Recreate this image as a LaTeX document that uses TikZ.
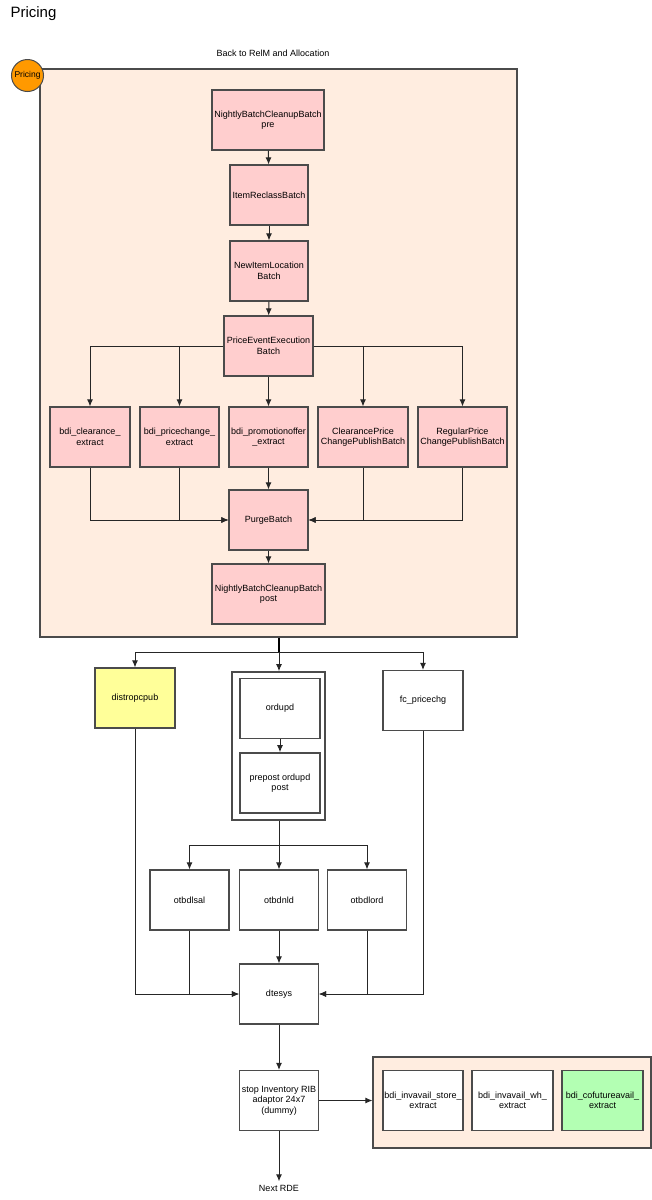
\documentclass[tikz,border=0pt]{standalone}
\usepackage{fontspec}
\setmainfont{Liberation Sans}
\usetikzlibrary{arrows.meta}
\definecolor{boxpink}{RGB}{255,206,206}
\definecolor{areapeach}{RGB}{255,237,224}
\definecolor{edgegray}{RGB}{75,75,75}
\definecolor{notegold}{RGB}{255,255,153}
\definecolor{mintgreen}{RGB}{179,255,179}
\definecolor{badgeorange}{RGB}{255,153,0}
\tikzset{
    batch/.style={draw=edgegray, fill=boxpink, line width=1.1pt, minimum width=79pt, minimum height=60pt, align=center, inner sep=1pt},
    job/.style={batch, fill=white},
    area/.style={draw=edgegray, fill=areapeach, line width=1.1pt, inner sep=0pt},
    flow/.style={->, draw=black!85, line width=1pt},
    small/.style={font=\fontsize{9}{10.5}\selectfont}
}

\begin{document}
\begin{tikzpicture}[x=1pt, y=-1pt, >={Latex[length=7pt,width=6pt]}, every node/.style={small}]
    \useasboundingbox (0,0) rectangle (652,1200);
    \node[anchor=west, font=\fontsize{15}{17}\selectfont] (title) at (7,14) {Pricing};
    \node (back) at (273,53) {Back to RelM and Allocation};
    \node[area, minimum width=477pt, minimum height=568pt] (pricing) at (278.5,353) {};
    \node[circle, draw=edgegray, fill=badgeorange, line width=1pt, minimum size=32pt, inner sep=0pt, font=\fontsize{8.5}{9}\selectfont] (badge) at (27.5,75.5) {Pricing};

    \node[batch, minimum width=112pt] (pre) at (268,120) {NightlyBatchCleanupBatch\\pre};
    \node[batch, minimum width=78pt] (reclass) at (269,195) {ItemReclassBatch};
    \node[batch, minimum width=78pt] (newloc) at (269,271) {NewItemLocation\\Batch};
    \node[batch, minimum width=89pt] (pee) at (268.5,346) {PriceEventExecution\\Batch};
    \node[batch, minimum width=80pt] (clr) at (90,437) {bdi\_clearance\_\\extract};
    \node[batch] (pchg) at (179.5,437) {bdi\_pricechange\_\\extract};
    \node[batch] (promo) at (268.5,437) {bdi\_promotionoffer\\\_extract};
    \node[batch, minimum width=90pt] (clrpub) at (363,437) {ClearancePrice\\ChangePublishBatch};
    \node[batch, minimum width=89pt] (regpub) at (462.5,437) {RegularPrice\\ChangePublishBatch};
    \node[batch] (purge) at (268.5,520) {PurgeBatch};
    \node[batch, minimum width=113pt] (post) at (268.5,594) {NightlyBatchCleanupBatch\\post};

    \draw[flow] (pre) -- (reclass);
    \draw[flow] (reclass) -- (newloc);
    \draw[flow] (newloc) -- (pee);
    \draw[flow] (pee.west) -| (clr);
    \draw[flow] (pee.west) -| (pchg);
    \draw[flow] (pee) -- (promo);
    \draw[flow] (pee.east) -| (clrpub);
    \draw[flow] (pee.east) -| (regpub);
    \draw[flow] (clr) |- (purge);
    \draw[flow] (pchg) |- (purge);
    \draw[flow] (promo) -- (purge);
    \draw[flow] (clrpub) |- (purge);
    \draw[flow] (regpub) |- (purge);
    \draw[flow] (purge) -- (post);

    \node[batch, fill=notegold, minimum width=80pt] (distro) at (135,698) {distropcpub};
    \node[draw=edgegray, fill=white, line width=1.6pt, minimum width=93pt, minimum height=148pt] (ordgrp) at (278.5,746) {};
    \node[job, line width=1.6pt, minimum width=80pt] (ordupd) at (280,708.5) {ordupd};
    \node[job, line width=1.6pt, minimum width=80pt] (prepost) at (280,783) {prepost ordupd\\post};
    \node[job, minimum width=80pt] (fcprice) at (423,700.5) {fc\_pricechg};

    \coordinate (split) at (279,652);
    \draw[line width=1.5pt] (pricing.south -| split) -- (split);
    \draw[flow] (split) -| (distro);
    \draw[flow] (split) -- (ordgrp.north -| split);
    \draw[flow] (split) -| (fcprice);
    \draw[flow] (ordupd) -- (prepost);

    \node[job] (lsal) at (189.5,900) {otbdlsal};
    \node[job] (nld) at (279,900) {otbdnld};
    \node[job] (lord) at (367,900) {otbdlord};
    \node[job] (dtesys) at (279,994) {dtesys};

    \coordinate (split2) at (279,845);
    \draw[flow, -] (ordgrp.south -| split2) -- (split2);
    \draw[flow] (split2) -| (lsal);
    \draw[flow] (split2) -- (nld);
    \draw[flow] (split2) -| (lord);
    \draw[flow] (distro) |- (dtesys);
    \draw[flow] (lsal) |- (dtesys);
    \draw[flow] (nld) -- (dtesys);
    \draw[flow] (lord) |- (dtesys);
    \draw[flow] (fcprice) |- (dtesys);

    \node[job] (stop) at (279,1100.5) {stop Inventory RIB\\adaptor 24x7\\(dummy)};
    \node[area, minimum width=278pt, minimum height=91pt] (invarea) at (512,1102.5) {};
    \node[job, minimum width=80pt] (store) at (423,1100.5) {bdi\_invavail\_store\_\\extract};
    \node[job, minimum width=81pt] (wh) at (512.5,1100.5) {bdi\_invavail\_wh\_\\extract};
    \node[job, fill=mintgreen, minimum width=81pt] (cofut) at (602.5,1100.5) {bdi\_cofutureavail\_\\extract};
    \node (next) at (279,1188) {Next RDE};

    \draw[flow] (dtesys) -- (stop);
    \draw[flow] (stop.east) -- (stop.east -| invarea.west);
    \draw[flow] (stop) -- (next);
\end{tikzpicture}
\end{document}
